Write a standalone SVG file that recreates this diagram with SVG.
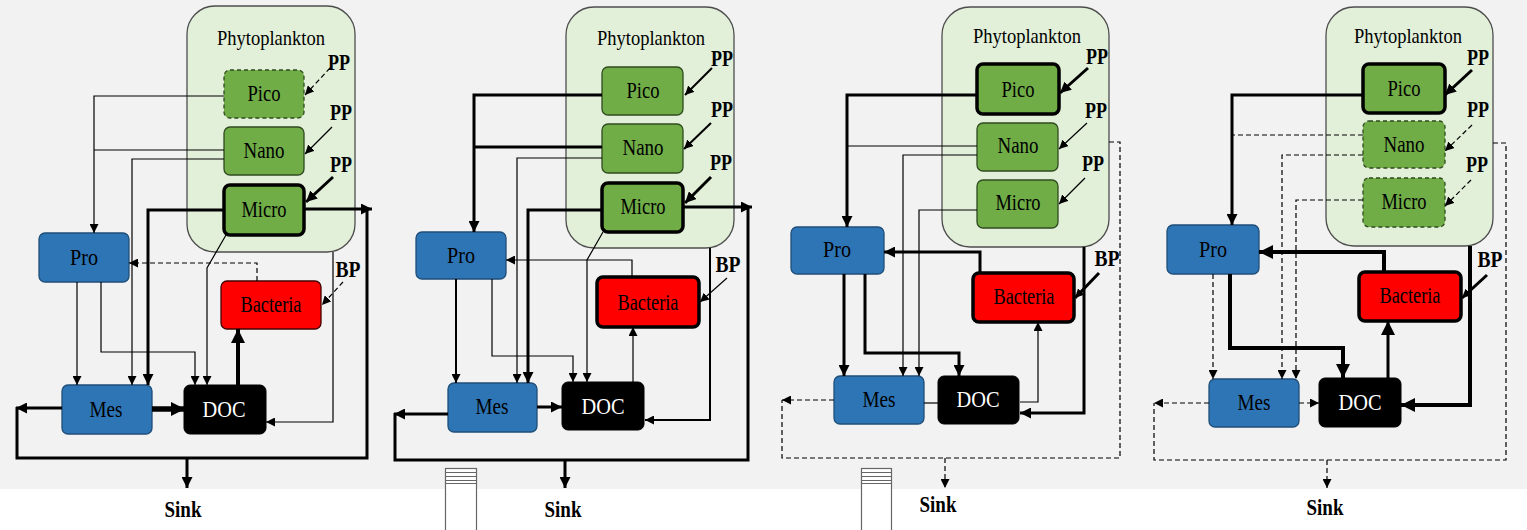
<svg xmlns="http://www.w3.org/2000/svg" width="1527" height="530" viewBox="0 0 1527 530">
<style>
.phyto{fill:#e2efd9;stroke:#4d4d4d;stroke-width:1.3}
.g{fill:#70ad47;stroke:#2f4b1f;stroke-width:1.3}
.gk{fill:#70ad47;stroke:#000;stroke-width:3.5}
.gd{fill:#70ad47;stroke:#2f4b1f;stroke-width:1.3;stroke-dasharray:4 3}
.b{fill:#2e75b6;stroke:#1f4e79;stroke-width:1.3}
.r{fill:#ff0000;stroke:#400;stroke-width:1.3}
.rk{fill:#ff0000;stroke:#000;stroke-width:3.5}
.doc{fill:#000;stroke:#000;stroke-width:1}
text{font-family:"Liberation Serif","DejaVu Serif","Times New Roman",serif;font-size:24px;text-anchor:middle;fill:#000}
.ph{font-size:22px}
.bold{font-weight:bold;font-size:23px}
.wt{fill:#fff}
.c{fill:none;stroke:#000;stroke-linejoin:miter}
.s1{stroke-width:1.2}
.s2{stroke-width:2}
.s3{stroke-width:3}
.s4{stroke-width:4}
.s5{stroke-width:5.5}
.d{stroke-dasharray:5 3}
.tube{fill:#fff;stroke:#666;stroke-width:1.2}
.tl{stroke:#666;stroke-width:1.2}
</style>
<defs>
<marker id="a1" markerUnits="userSpaceOnUse" markerWidth="10" markerHeight="9" refX="9" refY="4.5" orient="auto"><path d="M0,0 L9,4.5 L0,9 z" fill="#000"/></marker>
<marker id="a2" markerUnits="userSpaceOnUse" markerWidth="12" markerHeight="11" refX="11" refY="5.5" orient="auto"><path d="M0,0 L11,5.5 L0,11 z" fill="#000"/></marker>
<marker id="a3" markerUnits="userSpaceOnUse" markerWidth="15" markerHeight="14" refX="14" refY="7" orient="auto"><path d="M0,0 L14,7 L0,14 z" fill="#000"/></marker>
</defs>
<rect x="0" y="0" width="1527" height="489" fill="#f2f2f2"/>
<rect x="0" y="489" width="1527" height="41" fill="#fff"/>

<g id="tube-1"><rect class="tube" x="445.5" y="468.5" width="31" height="70"/><path class="tl" d="M446,472.5H476M446,476.5H476M446,480.5H476M446,483.5H476"/></g>
<g id="tube-2"><rect class="tube" x="861.5" y="468.5" width="30" height="70"/><path class="tl" d="M862,472.5H891M862,476.5H891M862,480.5H891M862,483.5H891"/></g>

<!-- Panel 1 -->
<g id="p1-phyto"><rect class="phyto" x="187" y="6" width="168" height="246" rx="28"/><text class="ph" x="271" y="45" textLength="108" lengthAdjust="spacingAndGlyphs">Phytoplankton</text></g>
<g id="p1-pico"><rect class="gd" x="224" y="70" width="80" height="48" rx="6"/><text x="264" y="101" textLength="33" lengthAdjust="spacingAndGlyphs">Pico</text></g>
<g id="p1-nano"><rect class="g" x="224" y="127" width="80" height="48" rx="6"/><text x="264" y="158" textLength="41" lengthAdjust="spacingAndGlyphs">Nano</text></g>
<g id="p1-micro"><rect class="gk" x="224" y="185" width="80" height="50" rx="6"/><text x="264" y="217" textLength="45" lengthAdjust="spacingAndGlyphs">Micro</text></g>
<g id="p1-pro"><rect class="b" x="39" y="233" width="90" height="49" rx="6"/><text x="84" y="265" textLength="28" lengthAdjust="spacingAndGlyphs">Pro</text></g>
<g id="p1-bacteria"><rect class="r" x="221" y="281" width="100" height="48" rx="6"/><text x="271" y="312" textLength="61" lengthAdjust="spacingAndGlyphs">Bacteria</text></g>
<g id="p1-mes"><rect class="b" x="62" y="385" width="90" height="49" rx="6"/><text x="106" y="417" textLength="33" lengthAdjust="spacingAndGlyphs">Mes</text></g>
<g id="p1-doc"><rect class="doc" x="184" y="385" width="82" height="49" rx="6"/><text class="wt" x="224" y="417" textLength="43" lengthAdjust="spacingAndGlyphs">DOC</text></g>
<g id="p1-labels">
<text class="bold" x="339" y="70" textLength="22" lengthAdjust="spacingAndGlyphs">PP</text>
<text class="bold" x="341" y="120" textLength="22" lengthAdjust="spacingAndGlyphs">PP</text>
<text class="bold" x="341" y="172" textLength="22" lengthAdjust="spacingAndGlyphs">PP</text>
<text class="bold" x="348" y="277" textLength="25" lengthAdjust="spacingAndGlyphs">BP</text>
<text class="bold" x="183" y="517" textLength="37" lengthAdjust="spacingAndGlyphs">Sink</text>
</g>

<!-- Panel 2 -->
<g id="p2-phyto"><rect class="phyto" x="566" y="7" width="168" height="241" rx="28"/><text class="ph" x="651" y="45" textLength="108" lengthAdjust="spacingAndGlyphs">Phytoplankton</text></g>
<g id="p2-pico"><rect class="g" x="602" y="67" width="81" height="48" rx="6"/><text x="643" y="98" textLength="33" lengthAdjust="spacingAndGlyphs">Pico</text></g>
<g id="p2-nano"><rect class="g" x="602" y="124" width="81" height="49" rx="6"/><text x="643" y="155" textLength="41" lengthAdjust="spacingAndGlyphs">Nano</text></g>
<g id="p2-micro"><rect class="gk" x="602" y="183" width="81" height="49" rx="6"/><text x="643" y="214" textLength="45" lengthAdjust="spacingAndGlyphs">Micro</text></g>
<g id="p2-pro"><rect class="b" x="416" y="232" width="90" height="47" rx="6"/><text x="461" y="263" textLength="28" lengthAdjust="spacingAndGlyphs">Pro</text></g>
<g id="p2-bacteria"><rect class="rk" x="597" y="277" width="102" height="50" rx="6"/><text x="648" y="310" textLength="61" lengthAdjust="spacingAndGlyphs">Bacteria</text></g>
<g id="p2-mes"><rect class="b" x="448" y="383" width="89" height="49" rx="6"/><text x="492" y="414" textLength="33" lengthAdjust="spacingAndGlyphs">Mes</text></g>
<g id="p2-doc"><rect class="doc" x="562" y="382" width="82" height="48" rx="6"/><text class="wt" x="603" y="414" textLength="43" lengthAdjust="spacingAndGlyphs">DOC</text></g>
<g id="p2-labels">
<text class="bold" x="722" y="66" textLength="22" lengthAdjust="spacingAndGlyphs">PP</text>
<text class="bold" x="722" y="117" textLength="22" lengthAdjust="spacingAndGlyphs">PP</text>
<text class="bold" x="721" y="170" textLength="22" lengthAdjust="spacingAndGlyphs">PP</text>
<text class="bold" x="728" y="272" textLength="25" lengthAdjust="spacingAndGlyphs">BP</text>
<text class="bold" x="563" y="517" textLength="37" lengthAdjust="spacingAndGlyphs">Sink</text>
</g>

<!-- Panel 3 -->
<g id="p3-phyto"><rect class="phyto" x="942" y="7" width="167" height="240" rx="28"/><text class="ph" x="1027" y="43" textLength="108" lengthAdjust="spacingAndGlyphs">Phytoplankton</text></g>
<g id="p3-pico"><rect class="gk" x="977" y="64" width="82" height="50" rx="6"/><text x="1018" y="97" textLength="33" lengthAdjust="spacingAndGlyphs">Pico</text></g>
<g id="p3-nano"><rect class="g" x="977" y="123" width="81" height="48" rx="6"/><text x="1018" y="153" textLength="41" lengthAdjust="spacingAndGlyphs">Nano</text></g>
<g id="p3-micro"><rect class="g" x="977" y="180" width="81" height="48" rx="6"/><text x="1018" y="210" textLength="45" lengthAdjust="spacingAndGlyphs">Micro</text></g>
<g id="p3-pro"><rect class="b" x="791" y="227" width="93" height="47" rx="6"/><text x="837" y="257" textLength="28" lengthAdjust="spacingAndGlyphs">Pro</text></g>
<g id="p3-bacteria"><rect class="rk" x="973" y="273" width="101" height="49" rx="6"/><text x="1024" y="304" textLength="61" lengthAdjust="spacingAndGlyphs">Bacteria</text></g>
<g id="p3-mes"><rect class="b" x="834" y="376" width="90" height="48" rx="6"/><text x="879" y="407" textLength="33" lengthAdjust="spacingAndGlyphs">Mes</text></g>
<g id="p3-doc"><rect class="doc" x="938" y="376" width="81" height="48" rx="6"/><text class="wt" x="978" y="407" textLength="43" lengthAdjust="spacingAndGlyphs">DOC</text></g>
<g id="p3-labels">
<text class="bold" x="1097" y="64" textLength="22" lengthAdjust="spacingAndGlyphs">PP</text>
<text class="bold" x="1096" y="118" textLength="22" lengthAdjust="spacingAndGlyphs">PP</text>
<text class="bold" x="1093" y="171" textLength="22" lengthAdjust="spacingAndGlyphs">PP</text>
<text class="bold" x="1107" y="266" textLength="25" lengthAdjust="spacingAndGlyphs">BP</text>
<text class="bold" x="938" y="512" textLength="37" lengthAdjust="spacingAndGlyphs">Sink</text>
</g>

<!-- Panel 4 -->
<g id="p4-phyto"><rect class="phyto" x="1326" y="7" width="167" height="239" rx="28"/><text class="ph" x="1408" y="43" textLength="108" lengthAdjust="spacingAndGlyphs">Phytoplankton</text></g>
<g id="p4-pico"><rect class="gk" x="1363" y="64" width="82" height="49" rx="6"/><text x="1404" y="96" textLength="33" lengthAdjust="spacingAndGlyphs">Pico</text></g>
<g id="p4-nano"><rect class="gd" x="1363" y="121" width="82" height="47" rx="6"/><text x="1404" y="152" textLength="41" lengthAdjust="spacingAndGlyphs">Nano</text></g>
<g id="p4-micro"><rect class="gd" x="1363" y="178" width="82" height="49" rx="6"/><text x="1404" y="209" textLength="45" lengthAdjust="spacingAndGlyphs">Micro</text></g>
<g id="p4-pro"><rect class="b" x="1167" y="225" width="92" height="49" rx="6"/><text x="1213" y="257" textLength="28" lengthAdjust="spacingAndGlyphs">Pro</text></g>
<g id="p4-bacteria"><rect class="rk" x="1359" y="272" width="102" height="49" rx="6"/><text x="1410" y="303" textLength="61" lengthAdjust="spacingAndGlyphs">Bacteria</text></g>
<g id="p4-mes"><rect class="b" x="1209" y="379" width="90" height="48" rx="6"/><text x="1254" y="410" textLength="33" lengthAdjust="spacingAndGlyphs">Mes</text></g>
<g id="p4-doc"><rect class="doc" x="1319" y="378" width="82" height="49" rx="6"/><text class="wt" x="1360" y="410" textLength="43" lengthAdjust="spacingAndGlyphs">DOC</text></g>
<g id="p4-labels">
<text class="bold" x="1478" y="65" textLength="22" lengthAdjust="spacingAndGlyphs">PP</text>
<text class="bold" x="1478" y="117" textLength="22" lengthAdjust="spacingAndGlyphs">PP</text>
<text class="bold" x="1477" y="172" textLength="22" lengthAdjust="spacingAndGlyphs">PP</text>
<text class="bold" x="1490" y="267" textLength="25" lengthAdjust="spacingAndGlyphs">BP</text>
<text class="bold" x="1325" y="515" textLength="37" lengthAdjust="spacingAndGlyphs">Sink</text>
</g>

<g id="connectors">
<!-- Panel 1 -->
<path class="c s1 d" d="M330,68 L305,95" marker-end="url(#a1)"/>
<path class="c s1" d="M332,127 L305,154" marker-end="url(#a1)"/>
<path class="c s3" d="M333,177 L306,202" marker-end="url(#a2)"/>
<path class="c s1" d="M224,96 H94 V233" marker-end="url(#a1)"/>
<path class="c s1" d="M224,150 H94"/>
<path class="c s1" d="M224,159 H132 V385" marker-end="url(#a1)"/>
<path class="c s3" d="M224,210 H148 V385" marker-end="url(#a2)"/>
<path class="c s3" d="M304,209 H372" marker-end="url(#a2)"/>
<path class="c s3" d="M62,408 H16" marker-end="url(#a2)"/>
<path class="c s3" d="M17,407 V458 H367 V209"/>
<path class="c s3" d="M187,458 V488" marker-end="url(#a2)"/>
<path class="c s1" d="M226,235 L207,268 V385" marker-end="url(#a1)"/>
<path class="c s1" d="M333,252 V422 H266" marker-end="url(#a1)"/>
<path class="c s1 d" d="M257,281 V263 H129" marker-end="url(#a1)"/>
<path class="c s1 d" d="M343,282 L322,305" marker-end="url(#a1)"/>
<path class="c s5" d="M152,409 H185" marker-end="url(#a3)"/>
<path class="c s4" d="M238,385 V329" marker-end="url(#a3)"/>
<path class="c s1" d="M77,282 V385" marker-end="url(#a1)"/>
<path class="c s1" d="M101,282 V352 H195 V385" marker-end="url(#a1)"/>
<!-- Panel 2 -->
<path class="c s2" d="M712,68 L685,95" marker-end="url(#a1)"/>
<path class="c s2" d="M711,123 L684,149" marker-end="url(#a1)"/>
<path class="c s3" d="M711,177 L685,203" marker-end="url(#a2)"/>
<path class="c s3" d="M602,95 H474 V232" marker-end="url(#a2)"/>
<path class="c s3" d="M602,147 H474"/>
<path class="c s1" d="M602,158 H517 V383" marker-end="url(#a1)"/>
<path class="c s3" d="M602,210 H528 V383" marker-end="url(#a2)"/>
<path class="c s3" d="M683,207 H752" marker-end="url(#a2)"/>
<path class="c s3" d="M448,414 H394" marker-end="url(#a2)"/>
<path class="c s3" d="M395,413 V460 H748 V207"/>
<path class="c s3" d="M565,460 V488" marker-end="url(#a2)"/>
<path class="c s1" d="M603,232 L587,260 V382" marker-end="url(#a1)"/>
<path class="c s2" d="M710,248 V420 H645" marker-end="url(#a1)"/>
<path class="c s1" d="M632,277 V260 H506" marker-end="url(#a1)"/>
<path class="c s1" d="M727,278 L700,302" marker-end="url(#a1)"/>
<path class="c s3" d="M537,407 H562" marker-end="url(#a2)"/>
<path class="c s1" d="M633,382 V327" marker-end="url(#a1)"/>
<path class="c s2" d="M456,279 V383" marker-end="url(#a1)"/>
<path class="c s1" d="M492,279 V356 H573 V382" marker-end="url(#a1)"/>
<!-- Panel 3 -->
<path class="c s3" d="M1088,68 L1060,93" marker-end="url(#a2)"/>
<path class="c s1" d="M1087,123 L1059,149" marker-end="url(#a1)"/>
<path class="c s1" d="M1085,178 L1059,204" marker-end="url(#a1)"/>
<path class="c s3" d="M977,95 H847 V227" marker-end="url(#a2)"/>
<path class="c s1" d="M977,146 H847"/>
<path class="c s1" d="M977,155 H903 V376" marker-end="url(#a1)"/>
<path class="c s1" d="M977,210 H919 V376" marker-end="url(#a1)"/>
<path class="c s1 d" d="M1109,142 H1120 V458 H782 V400"/>
<path class="c s1 d" d="M834,400 H782" marker-end="url(#a1)"/>
<path class="c s1 d" d="M945,458 V488" marker-end="url(#a1)"/>
<path class="c s3" d="M1084,247 V413 H1020" marker-end="url(#a2)"/>
<path class="c s3" d="M980,273 V252 H884" marker-end="url(#a2)"/>
<path class="c s3" d="M1099,273 L1075,298" marker-end="url(#a1)"/>
<path class="c s1" d="M924,403 H938"/>
<path class="c s1" d="M1020,402 H1038 V322" marker-end="url(#a1)"/>
<path class="c s3" d="M844,274 V376" marker-end="url(#a2)"/>
<path class="c s3" d="M865,274 V353 H959 V376" marker-end="url(#a2)"/>
<!-- Panel 4 -->
<path class="c s3" d="M1472,70 L1445,95" marker-end="url(#a2)"/>
<path class="c s1 d" d="M1472,125 L1445,151" marker-end="url(#a1)"/>
<path class="c s1 d" d="M1471,180 L1445,206" marker-end="url(#a1)"/>
<path class="c s3" d="M1363,95 H1232 V225" marker-end="url(#a2)"/>
<path class="c s1 d" d="M1363,135 H1233"/>
<path class="c s1 d" d="M1363,155 H1282 V379" marker-end="url(#a1)"/>
<path class="c s1 d" d="M1363,200 H1296 V379" marker-end="url(#a1)"/>
<path class="c s1 d" d="M1493,143 H1506 V460 H1154 V403"/>
<path class="c s1 d" d="M1209,403 H1154" marker-end="url(#a1)"/>
<path class="c s1 d" d="M1327,460 V488" marker-end="url(#a1)"/>
<path class="c s4" d="M1470,246 V405 H1401" marker-end="url(#a3)"/>
<path class="c s4" d="M1384,272 V252 H1259" marker-end="url(#a3)"/>
<path class="c s3" d="M1487,275 L1462,298" marker-end="url(#a1)"/>
<path class="c s1 d" d="M1299,403 H1319" marker-end="url(#a1)"/>
<path class="c s3" d="M1388,378 V321" marker-end="url(#a3)"/>
<path class="c s1 d" d="M1213,274 V379" marker-end="url(#a1)"/>
<path class="c s4" d="M1230,274 V348 H1343 V378" marker-end="url(#a3)"/>
</g>
</svg>
